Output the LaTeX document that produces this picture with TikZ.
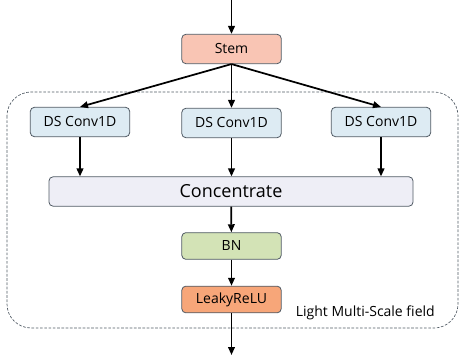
\documentclass[tikz,border=0pt]{standalone}
\usepackage{fontspec}
\setmainfont{Open Sans}
\usetikzlibrary{arrows.meta}

\definecolor{stemfill}{HTML}{F9C5B4}
\definecolor{dsfill}{HTML}{DDEBF3}
\definecolor{catfill}{HTML}{EEEEF6}
\definecolor{bnfill}{HTML}{D3E3B6}
\definecolor{relufill}{HTML}{F7A679}
\definecolor{boxline}{HTML}{505A64}

\begin{document}
\begin{tikzpicture}[
    x=0.75pt,
    y=-0.75pt,
    font=\fontsize{10.5}{12}\selectfont,
    block/.style={draw=boxline, line width=0.6pt, rounded corners=3pt,
        minimum width=74.5pt, minimum height=22pt, inner sep=0pt},
    flow/.style={-{Triangle[length=6pt,width=5pt]}, line width=1.3pt}
]
\useasboundingbox (0,0) rectangle (470,359);

% dashed field
\draw[dash pattern=on 2pt off 1.2pt, draw=boxline, line width=0.5pt, rounded corners=18pt]
    (7,92) rectangle (458,328);
\node[anchor=east, inner sep=0pt] (fieldlbl) at (435,313) {Light Multi-Scale field};

\coordinate (input) at (231.5,0);
\node[block, fill=stemfill] (stem) at (231.5,49) {Stem};

\node[block, fill=dsfill] (dsa) at (80,122) {DS Conv1D};
\node[block, fill=dsfill] (dsb) at (231.5,123) {DS Conv1D};
\node[block, fill=dsfill] (dsc) at (381,122) {DS Conv1D};

\node[block, fill=catfill, minimum width=273pt, font=\fontsize{13.5}{15}\selectfont] (concat) at (231,191.5) {Concentrate};
\node[block, fill=bnfill, minimum height=20pt] (bn) at (231.5,246) {BN};
\node[block, fill=relufill, minimum height=20pt] (relu) at (231.5,299.5) {LeakyReLU};
\coordinate (output) at (231.5,355);

\draw[flow] (input) -- (stem);
\draw[flow] (stem.south) -- (dsa.north);
\draw[flow] (stem.south) -- (dsb.north);
\draw[flow] (stem.south) -- (dsc.north);
\draw[flow] (dsa.south) -- (dsa.south |- concat.north);
\draw[flow] (dsb.south) -- (dsb.south |- concat.north);
\draw[flow] (dsc.south) -- (dsc.south |- concat.north);
\draw[flow] (concat) -- (bn);
\draw[flow] (bn) -- (relu);
\draw[flow] (relu) -- (output);
\end{tikzpicture}
\end{document}
